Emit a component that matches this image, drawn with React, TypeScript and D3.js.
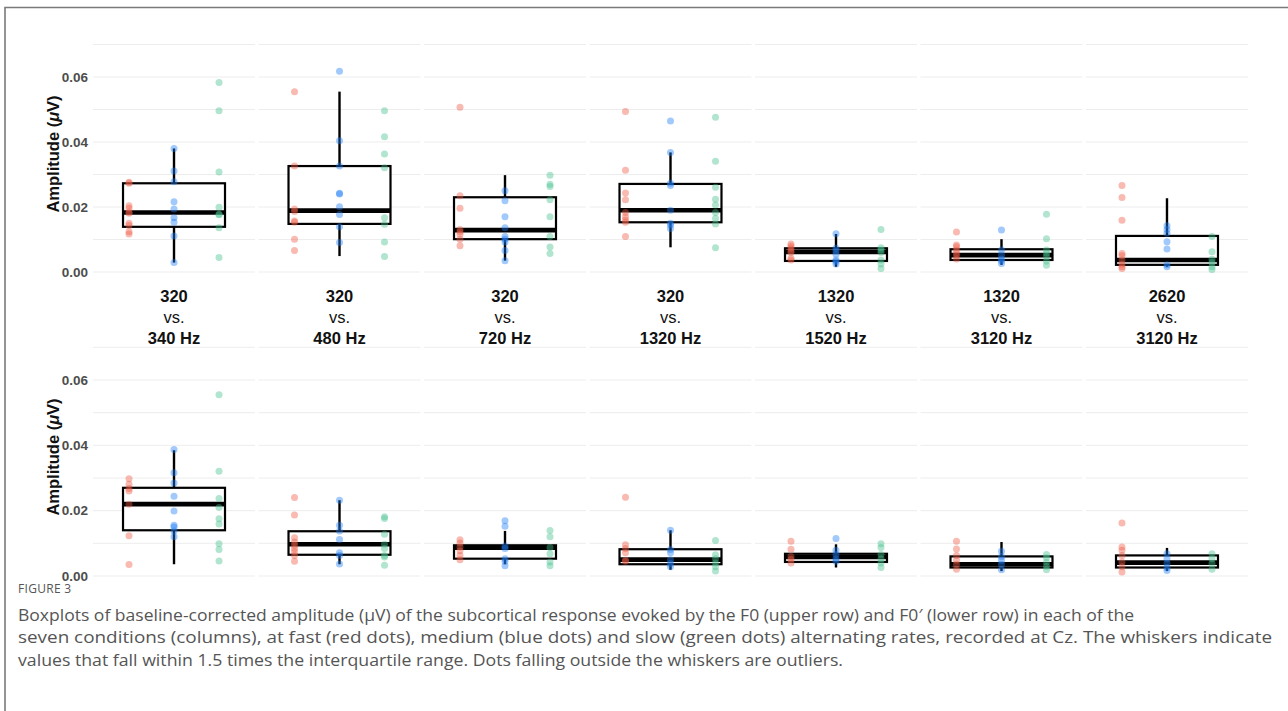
import React from "react";
import * as d3 from "d3";

// condition labels (x facets)
const condFrom = ["320", "320", "320", "320", "1320", "1320", "2620"];
const condTo = ["340 Hz", "480 Hz", "720 Hz", "1320 Hz", "1520 Hz", "3120 Hz", "3120 Hz"];
const rates = ["fast", "medium", "slow"];
const yTicks = [0, 0.02, 0.04, 0.06];
const gridVals = [0, 0.01, 0.02, 0.03, 0.04, 0.05, 0.06, 0.07];

// upper row: F0
const f0Fast = [
  [0.0273, 0.0276, 0.0204, 0.0196, 0.0184, 0.0181, 0.015, 0.0143, 0.0124, 0.0117],
  [0.0555, 0.0326, 0.0194, 0.0186, 0.0157, 0.0153, 0.0101, 0.0066],
  [0.0507, 0.0235, 0.0196, 0.0131, 0.0124, 0.0116, 0.0101, 0.0081],
  [0.0494, 0.0313, 0.0243, 0.0222, 0.0183, 0.017, 0.016, 0.0153, 0.0109],
  [0.0086, 0.008, 0.0073, 0.0065, 0.006, 0.0042, 0.0037],
  [0.0123, 0.0083, 0.0078, 0.0068, 0.0058, 0.005, 0.004],
  [0.0266, 0.0229, 0.0159, 0.0057, 0.005, 0.0037, 0.0025, 0.0016, 0.0011],
];
const f0Medium = [
  [0.038, 0.0311, 0.0278, 0.0216, 0.0194, 0.0167, 0.0153, 0.0111, 0.0029],
  [0.0618, 0.0404, 0.0326, 0.0242, 0.024, 0.0201, 0.0177, 0.0139, 0.0091],
  [0.025, 0.0219, 0.017, 0.0136, 0.0109, 0.0101, 0.0092, 0.0066, 0.0035],
  [0.0465, 0.0368, 0.0273, 0.0266, 0.019, 0.015, 0.0145, 0.0134],
  [0.0118, 0.0073, 0.0065, 0.0055, 0.0037, 0.0032, 0.0025],
  [0.0129, 0.0068, 0.0052, 0.004, 0.0035, 0.0026],
  [0.0142, 0.0131, 0.0119, 0.0093, 0.0071, 0.0022, 0.0016],
];
const f0Slow = [
  [0.0583, 0.0496, 0.0308, 0.0199, 0.0178, 0.0176, 0.0136, 0.0045],
  [0.0496, 0.0416, 0.0363, 0.0321, 0.0167, 0.0147, 0.0092, 0.0048],
  [0.0298, 0.027, 0.0263, 0.0222, 0.017, 0.0109, 0.0077, 0.0057],
  [0.0476, 0.0341, 0.0261, 0.0224, 0.0206, 0.0183, 0.0165, 0.0148, 0.0075],
  [0.0131, 0.0075, 0.0068, 0.006, 0.0037, 0.0025, 0.0011],
  [0.0178, 0.0102, 0.0068, 0.0058, 0.0048, 0.0033, 0.0021],
  [0.0109, 0.0062, 0.0039, 0.0029, 0.0016, 0.0008],
];
const f0Q1 = [0.0139, 0.0148, 0.0101, 0.0153, 0.0034, 0.0037, 0.0022];
const f0Median = [0.0183, 0.0189, 0.0129, 0.019, 0.0062, 0.0052, 0.0037];
const f0Q3 = [0.0273, 0.0326, 0.023, 0.0271, 0.0073, 0.007, 0.0111];
const f0Low = [0.0029, 0.0049, 0.0035, 0.0076, 0.0016, 0.0022, 0.0016];
const f0High = [0.038, 0.0555, 0.0298, 0.0368, 0.0117, 0.0101, 0.0227];

// lower row: F0'
const f1Fast = [
  [0.0298, 0.0281, 0.0268, 0.026, 0.022, 0.0123, 0.0035],
  [0.024, 0.0187, 0.0117, 0.0104, 0.0094, 0.0084, 0.0074, 0.0063, 0.0045],
  [0.0111, 0.0101, 0.0089, 0.0077, 0.0063, 0.005],
  [0.0241, 0.0096, 0.0084, 0.0071, 0.0048, 0.0045],
  [0.0106, 0.0082, 0.006, 0.0051, 0.004],
  [0.0106, 0.0083, 0.0063, 0.0048, 0.0036, 0.0021],
  [0.0162, 0.0089, 0.0079, 0.0063, 0.0043, 0.0028, 0.0012],
];
const f1Medium = [
  [0.0387, 0.0316, 0.0285, 0.0244, 0.0199, 0.0155, 0.015, 0.0138, 0.012],
  [0.0232, 0.0155, 0.0138, 0.0112, 0.0071, 0.0063, 0.0037],
  [0.0169, 0.0152, 0.0091, 0.0084, 0.0053, 0.0045, 0.0031],
  [0.014, 0.0081, 0.0071, 0.005, 0.0038, 0.0028],
  [0.0115, 0.0079, 0.0066, 0.0053, 0.0045],
  [0.0076, 0.006, 0.0048, 0.0036, 0.0019],
  [0.0068, 0.0053, 0.0038, 0.0026, 0.0017],
];
const f1Slow = [
  [0.0555, 0.0321, 0.0237, 0.021, 0.0175, 0.0159, 0.0099, 0.0081, 0.0046],
  [0.0181, 0.0176, 0.0128, 0.0097, 0.0084, 0.0063, 0.0058, 0.0033],
  [0.0139, 0.012, 0.0087, 0.0068, 0.0043, 0.0031],
  [0.0109, 0.0065, 0.0053, 0.004, 0.0028, 0.0015],
  [0.0099, 0.0087, 0.0066, 0.0053, 0.004, 0.0026],
  [0.0066, 0.0056, 0.0042, 0.003, 0.0019],
  [0.0068, 0.0053, 0.0038, 0.0021],
];
const f1Q1 = [0.014, 0.0065, 0.0053, 0.0036, 0.0043, 0.0026, 0.0026];
const f1Median = [0.022, 0.0097, 0.0087, 0.005, 0.0058, 0.0036, 0.0041];
const f1Q3 = [0.027, 0.0137, 0.0094, 0.0082, 0.0068, 0.006, 0.0063];
const f1Low = [0.0036, 0.0036, 0.0036, 0.0019, 0.0026, 0.0015, 0.0015];
const f1High = [0.0385, 0.0232, 0.0138, 0.014, 0.0097, 0.0104, 0.0086];

const dotColors = ["#EE5A45", "#1E7FF5", "#45C08E"];
const W = 1288;
const H = 711;
const font = "Helvetica, Arial, 'Liberation Sans', sans-serif";

const xBand = d3.scaleBand<number>().domain(d3.range(7)).range([93, 1248]).paddingInner(0.021);
const inner = d3.scaleLinear().domain([0.2, 3.8]).range([0, xBand.bandwidth()]);

function Row(props: {
  y: d3.ScaleLinear<number, number>;
  dots: number[][][];
  q1: number[]; med: number[]; q3: number[]; lo: number[]; hi: number[];
  titleY: number;
}) {
  const { y, dots, q1, med, q3, lo, hi, titleY } = props;
  const bw = xBand.bandwidth();
  const boxHalf = 1.133;
  return (
    <g>
      {d3.range(7).map((i) => {
        const x0 = xBand(i) as number;
        return (
          <g key={i} transform={`translate(${x0},0)`}>
            {gridVals.map((g) => (
              <line key={g} x1={0} x2={bw} y1={y(g)} y2={y(g)} stroke="#ededed" strokeWidth={1} />
            ))}
            <line x1={inner(2)} x2={inner(2)} y1={y(q3[i])} y2={y(hi[i])} stroke="#000" strokeWidth={2.4} />
            <line x1={inner(2)} x2={inner(2)} y1={y(q1[i])} y2={y(lo[i])} stroke="#000" strokeWidth={2.4} />
            <rect x={inner(2 - boxHalf)} width={inner(2 + boxHalf) - inner(2 - boxHalf)}
              y={y(q3[i])} height={y(q1[i]) - y(q3[i])} fill="#fff" stroke="#000" strokeWidth={2.2} />
            <line x1={inner(2 - boxHalf)} x2={inner(2 + boxHalf)} y1={y(med[i])} y2={y(med[i])} stroke="#000" strokeWidth={4.6} />
            {rates.map((r, k) =>
              dots[k][i].map((v, j) => (
                <circle key={r + j} cx={inner(k + 1)} cy={y(v)} r={3.5} fill={dotColors[k]} fillOpacity={0.42} />
              ))
            )}
          </g>
        );
      })}
      {yTicks.map((t) => (
        <text key={t} x={88} y={y(t)} dy="0.35em" textAnchor="end" fontFamily={font}
          fontWeight="bold" fontSize={13.5} fill="#4d4d4d">{d3.format(".2f")(t)}</text>
      ))}
      <text transform={`translate(53,${titleY}) rotate(-90)`} textAnchor="middle" dy="0.35em"
        fontFamily={font} fontWeight="bold" fontSize={16.5} fill="#111">Amplitude (<tspan fontStyle="italic">μ</tspan>V)</text>
    </g>
  );
}

const captionLines = [
  "Boxplots of baseline-corrected amplitude (μV) of the subcortical response evoked by the F0 (upper row) and F0′ (lower row) in each of the",
  "seven conditions (columns), at fast (red dots), medium (blue dots) and slow (green dots) alternating rates, recorded at Cz. The whiskers indicate",
  "values that fall within 1.5 times the interquartile range. Dots falling outside the whiskers are outliers.",
];
const captionWidths = [1116, 1254, 825];

export default function App() {
  const yTop = d3.scaleLinear().domain([0, 0.06]).range([272, 77]);
  const yBot = d3.scaleLinear().domain([0, 0.06]).range([576, 380]);
  return (
    <svg width={W} height={H} style={{ position: "absolute", left: 0, top: 0, background: "#fff" }}>
      <rect width={W} height={H} fill="#fff" />
      <path d={`M5,${H} V7.5 H${W}`} fill="none" stroke="#7a7a7a" strokeWidth={1.6} />
      <Row y={yTop} dots={[f0Fast, f0Medium, f0Slow]} q1={f0Q1} med={f0Median} q3={f0Q3} lo={f0Low} hi={f0High} titleY={154} />
      <Row y={yBot} dots={[f1Fast, f1Medium, f1Slow]} q1={f1Q1} med={f1Median} q3={f1Q3} lo={f1Low} hi={f1High} titleY={457} />
      {d3.range(7).map((i) => {
        const cx = (xBand(i) as number) + xBand.bandwidth() / 2;
        return (
          <g key={i} fontFamily={font} fontSize={16.5} fill="#111" textAnchor="middle">
            <text x={cx} y={302} fontWeight="bold">{condFrom[i]}</text>
            <text x={cx} y={323}>vs.</text>
            <text x={cx} y={344} fontWeight="bold">{condTo[i]}</text>
          </g>
        );
      })}
      <text x={18} y={593} fontFamily="'Open Sans', sans-serif" fontSize={12} fill="#555" letterSpacing={0.3}>FIGURE 3</text>
      {captionLines.map((l, i) => (
        <text key={i} x={18} y={620.5 + i * 22.5} fontFamily="'Open Sans', sans-serif" fontSize={17}
          textLength={captionWidths[i]} lengthAdjust="spacingAndGlyphs" fill="#555">{l}</text>
      ))}
    </svg>
  );
}
